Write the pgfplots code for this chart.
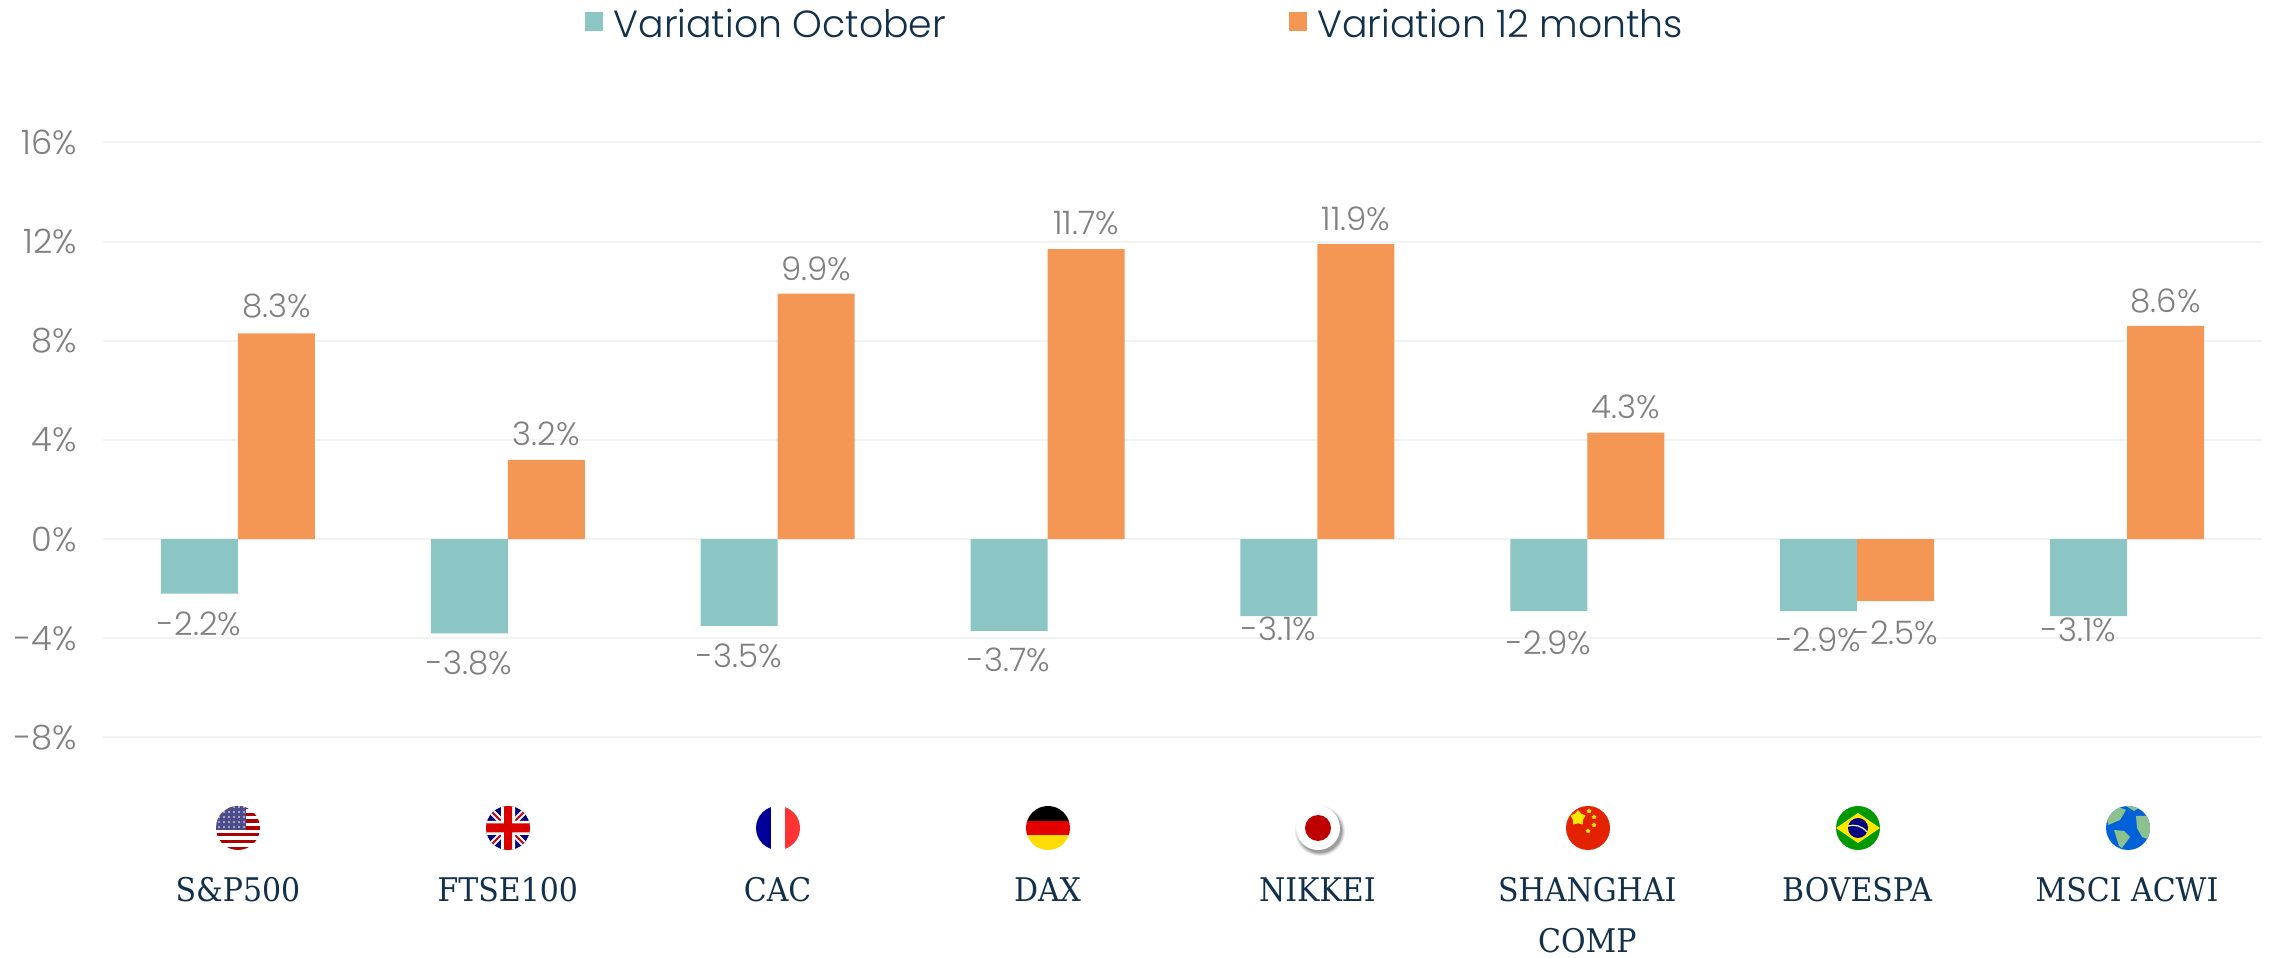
\documentclass[border=0pt]{standalone}
\usepackage{fontspec}
\usepackage{pgfplots}
\usepackage{pgfplotstable}
\pgfplotsset{compat=1.18}
\usetikzlibrary{shapes.geometric}
\setmainfont{Poppins}[UprightFont=* Light]
\newfontfamily\catfont{DejaVu Serif}[FakeStretch=0.92]
\definecolor{teal1}{HTML}{8BC6C4}
\definecolor{orange1}{HTML}{F49654}
\definecolor{navy1}{HTML}{12304A}
\definecolor{gray1}{HTML}{808080}
\definecolor{grid1}{HTML}{F2F2F2}
\pgfplotstableread{
x y dy dx
0 -2.2 -15 0
1 -3.8 -15 0
2 -3.5 -15 0
3 -3.7 -14.5 0
4 -3.1 -6.5 0
5 -2.9 -16 0
6 -2.9 -14.5 0
7 -3.1 -7 -4.7
}\octdata
\pgfplotstableread{
x y dy dx
0 8.3 13.5 0
1 3.2 13 0
2 9.9 12.5 0
3 11.7 13 0
4 11.9 12.5 0
5 4.3 13 0
6 -2.5 -16 0
7 8.6 12.5 0
}\yrdata
\begin{document}
\begin{tikzpicture}
\useasboundingbox (0,0) rectangle (1140.5pt,479pt);
\begin{axis}[
  at={(51.5pt,110.25pt)}, anchor=south west,
  scale only axis, width=1079.5pt, height=297.5pt,
  xmin=-0.5, xmax=7.5, ymin=-8, ymax=16,
  axis line style={draw=none}, major tick length=0pt,
  ymajorgrids, grid style={grid1,line width=1pt},
  ytick={-8,-4,0,4,8,12,16},
  yticklabels={-8\%,-4\%,0\%,4\%,8\%,12\%,16\%},
  yticklabel style={font=\fontsize{16.8}{19}\selectfont,text=gray1,xshift=-9.5pt},
  xtick={0,...,7},
  xticklabels={S\&P500,FTSE100,CAC,DAX,NIKKEI,SHANGHAI\\[7.5pt]COMP,BOVESPA,MSCI ACWI},
  xticklabel style={font=\catfont\fontsize{16.3}{18}\selectfont,text=navy1,align=center,anchor=north,yshift=-66.5pt},
  ybar=0pt, bar width=38.5pt,
  clip=false,
  /pgf/number format/assume math mode=true,
  /pgf/number format/fixed, /pgf/number format/fixed zerofill, /pgf/number format/precision=1,
  nodes near coords={\pgfmathprintnumber{\pgfplotspointmeta}\%},
  visualization depends on={\thisrow{dy} \as \dyv},
  visualization depends on={\thisrow{dx} \as \dxv},
  every node near coord/.append style={font=\fontsize{16.2}{18}\selectfont,text=gray1,anchor=center,yshift=\dyv pt,xshift=\dxv pt,inner sep=0pt},
  legend columns=2,
  legend style={at={(0.2233,1.1975)},anchor=west,draw=none,fill=none,inner sep=0pt,
    font=\fontsize{18.9}{21}\selectfont,text=navy1,
    nodes={inner xsep=1.6pt},
    /tikz/every even column/.append style={column sep=170pt},
    /tikz/every odd column/.append style={column sep=0pt}},
  legend image code/.code={\fill[#1,draw=none] (0pt,-3.25pt) rectangle (9pt,6.25pt);},
]
\addplot[fill=teal1,draw=none] table[x=x,y=y] {\octdata};
\addplot[fill=orange1,draw=none] table[x=x,y=y] {\yrdata};
\legend{\hspace*{3.5pt}Variation October,\hspace*{3.5pt}Variation 12 months}
\end{axis}
% flags (decorative)
\newcommand{\flagat}[1]{\begin{scope}[shift={(#1*135pt+119pt,65pt)},x=.5pt,y=.5pt]\clip (0,0) circle (22);}
% US
\flagat{0}
\fill[white] (-22,-22) rectangle (22,22);
\foreach \i in {0,2,...,12}{\fill[red!60!black!80!red] (-22,-22+\i*3.4) rectangle (22,-22+\i*3.4+3.4);}
\fill[blue!35!black!70!white] (-22,-2) rectangle (8,22);
\foreach \a in {-19,-14,...,6}{\foreach \b in {1,6,...,21}{\fill[white] (\a,\b) circle (0.9);}}
\end{scope}
% UK
\flagat{1}
\fill[blue!50!black] (-22,-22) rectangle (22,22);
\draw[white,line width=3pt] (-22,-22)--(22,22) (-22,22)--(22,-22);
\draw[red!80!black,line width=1pt] (-22,-22)--(22,22) (-22,22)--(22,-22);
\fill[white] (-7,-22) rectangle (7,22) (-22,-7) rectangle (22,7);
\fill[red!85!black] (-4,-22) rectangle (4,22) (-22,-4.5) rectangle (22,4.5);
\end{scope}
% France
\flagat{2}
\fill[blue!60!black] (-22,-22) rectangle (-7,22);
\fill[white] (-7,-22) rectangle (7,22);
\fill[red!80!white] (7,-22) rectangle (22,22);
\end{scope}
% Germany
\flagat{3}
\fill[black] (-22,7) rectangle (22,22);
\fill[red!90!black] (-22,-7) rectangle (22,7);
\fill[yellow!80!orange] (-22,-22) rectangle (22,-7);
\end{scope}
% Japan
\begin{scope}[shift={(3*135pt+4*0pt+135pt*1+119pt,65pt)},x=.5pt,y=.5pt]
\foreach \r/\o in {25/.08,24/.1,23/.12,22/.15}{\fill[black,opacity=\o] (2,-3) circle (\r);}
\fill[white] (0,0) circle (22);
\fill[red!75!black] (0,0) circle (13);
\end{scope}
% China
\flagat{5}
\fill[red!70!orange!90!black] (-22,-22) rectangle (22,22);
\node[star,star points=5,fill=yellow!90!orange,inner sep=0pt,minimum size=8pt] at (-10,10) {};
\foreach \p in {(1,17),(6,11),(6,3),(0,-3)}{\node[star,star points=5,fill=yellow!90!orange,inner sep=0pt,minimum size=2.5pt] at \p {};}
\end{scope}
% Brazil
\flagat{6}
\fill[green!60!black] (-22,-22) rectangle (22,22);
\fill[yellow!90!orange] (-22,0)--(0,15)--(22,0)--(0,-15)--cycle;
\fill[blue!50!black] (0,0) circle (10);
\draw[white,line width=.6pt] (-10,2) .. controls (-3,4) and (4,2) .. (9,-4);
\end{scope}
% World
\flagat{7}
\fill[blue!55!cyan!85!black] (-22,-22) rectangle (22,22);
\fill[green!45!black!45!white] (-22,16)--(-12,22)--(-2,18)--(-8,8)--(-20,3)--cycle;
\fill[green!45!black!45!white] (-14,-2)--(-4,-3)--(2,-9)--(-6,-20)--(-9,-18)--cycle;
\fill[green!45!black!45!white] (8,12)--(22,12)--(22,-12)--(14,-9)--(9,0)--cycle;
\fill[green!45!black!45!white] (-2,22)--(14,22)--(6,17)--cycle;
\end{scope}
\end{tikzpicture}
\end{document}
